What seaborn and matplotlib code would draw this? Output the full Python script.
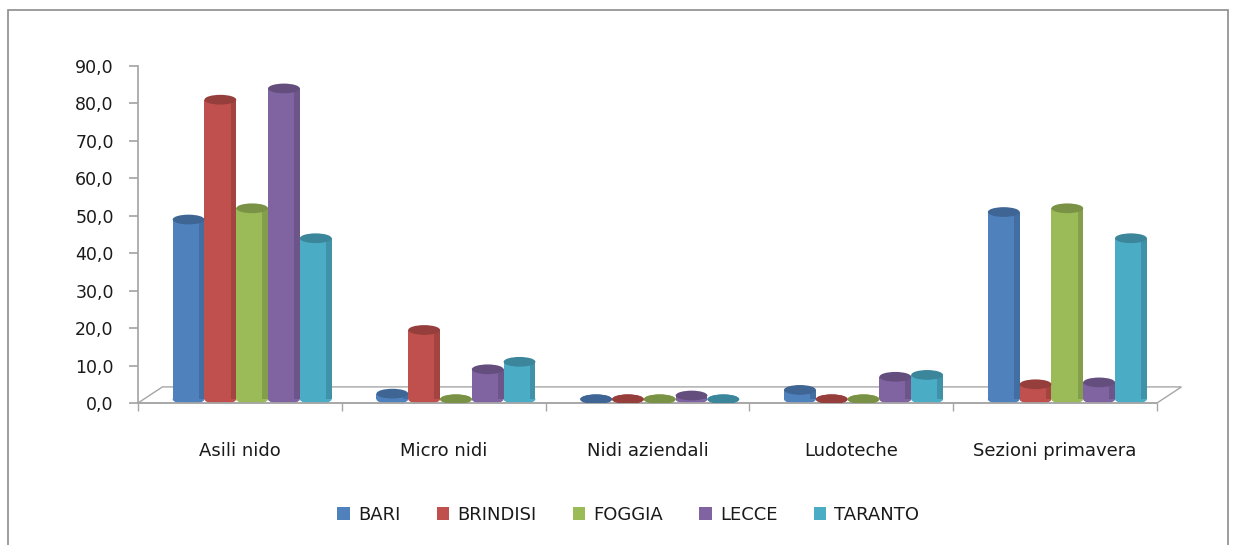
import matplotlib
matplotlib.use("Agg")
import matplotlib.pyplot as plt
import seaborn as sns
import pandas as pd
from matplotlib.patches import Ellipse, Rectangle, Polygon
from matplotlib.ticker import FuncFormatter
from matplotlib.colors import to_rgb

categories = ["Asili nido", "Micro nidi", "Nidi aziendali", "Ludoteche", "Sezioni primavera"]
provinces = ["BARI", "BRINDISI", "FOGGIA", "LECCE", "TARANTO"]
bari = [48.0, 1.5, 0.0, 2.5, 50.0]
brindisi = [80.0, 18.5, 0.0, 0.0, 4.0]
foggia = [51.0, 0.0, 0.0, 0.0, 51.0]
lecce = [83.0, 8.0, 1.0, 6.0, 4.5]
taranto = [43.0, 10.0, 0.0, 6.5, 43.0]
colors = ["#4F81BD", "#C0504D", "#9BBB59", "#8064A2", "#4BACC6"]
yticks = [0, 10, 20, 30, 40, 50, 60, 70, 80, 90]

series = {"BARI": bari, "BRINDISI": brindisi, "FOGGIA": foggia, "LECCE": lecce, "TARANTO": taranto}
rows = []
for p in provinces:
    for c, v in zip(categories, series[p]):
        rows.append({"cat": c, "prov": p, "val": v})
df = pd.DataFrame(rows)

sns.set_theme(style="white")
plt.rcParams["font.family"] = ["DejaVu Sans"]

fig = plt.figure(figsize=(12.37, 5.45), dpi=100)
ax = fig.add_axes([138 / 1237, 1 - 403 / 545, (1157 - 138) / 1237, (403 - 66) / 545])

sns.barplot(data=df, x="cat", y="val", hue="prov", order=categories, hue_order=provinces,
            palette=colors, width=0.78, gap=0, ax=ax, saturation=1, legend=False,
            edgecolor="none", linewidth=0, errorbar=None)

ax.set_ylim(0, 90)
ax.set_xlim(-0.5, 4.5)
ax.set_yticks(yticks)
ax.yaxis.set_major_formatter(FuncFormatter(lambda v, _: f"{v:.1f}".replace(".", ",")))

# floor (3D look)
floor_h = 4.3
depth = 0.12
ax.add_patch(Polygon([(-0.5, 0), (-0.5 + depth, floor_h), (4.5 + depth, floor_h), (4.5, 0)],
                     closed=True, facecolor="white", edgecolor="#A6A6A6", lw=1.0,
                     zorder=0.5, clip_on=False))

# cylinder shapes
ell_h = 2.6
base = 1.0
shift = 0.06
for patch in ax.patches[:]:
    if not isinstance(patch, Rectangle):
        continue
    x0 = patch.get_x()
    w = patch.get_width()
    h = patch.get_height()
    fc = patch.get_facecolor()
    if w <= 0 or w > 1:
        continue
    patch.set_x(x0 + shift)
    patch.set_y(base)
    patch.set_zorder(2)
    cx = x0 + shift + w / 2
    rgb = to_rgb(fc)
    dark = tuple(0.78 * c for c in rgb)
    edge = tuple(0.85 * c for c in rgb)
    # subtle shading on right edge of the cylinder
    ax.add_patch(Rectangle((x0 + shift + w * 0.82, base), w * 0.18, h,
                           facecolor=edge, edgecolor="none", zorder=2.1))
    ax.add_patch(Ellipse((cx, base), w, ell_h, facecolor=fc, edgecolor="none", zorder=2))
    ax.add_patch(Ellipse((cx, h + base), w, ell_h, facecolor=dark, edgecolor="none", zorder=3))

for s in ["top", "right"]:
    ax.spines[s].set_visible(False)
ax.spines["left"].set_color("#A6A6A6")
ax.spines["bottom"].set_color("#A6A6A6")
ax.tick_params(axis="y", length=6.5, color="#A6A6A6", direction="out", left=True,
               labelsize=12.5, pad=11, labelcolor="#1a1a1a")
ax.set_xticks([-0.5, 0.5, 1.5, 2.5, 3.5, 4.5], minor=True)
ax.tick_params(axis="x", which="minor", length=6, color="#A6A6A6", bottom=True)
ax.tick_params(axis="x", which="major", length=0, labelsize=13, pad=28, labelcolor="#1a1a1a")
ax.set_xlabel("")
ax.set_ylabel("")

handles = [Rectangle((0, 0), 1, 1, facecolor=c, edgecolor="none") for c in colors]
fig.legend(handles, provinces, loc="center", bbox_to_anchor=(0.508, 1 - 515 / 545), ncol=5,
           frameon=False, fontsize=13, handlelength=0.7, handleheight=0.7,
           handletextpad=0.45, columnspacing=2.0, labelcolor="#1a1a1a")

fig.add_artist(Rectangle((8 / 1237, -0.02), (1228 - 8) / 1237, 1.02 - 10 / 545,
                         transform=fig.transFigure, fill=False, edgecolor="#8C8C8C", lw=1.2))

fig.savefig("out.png", dpi=100)
